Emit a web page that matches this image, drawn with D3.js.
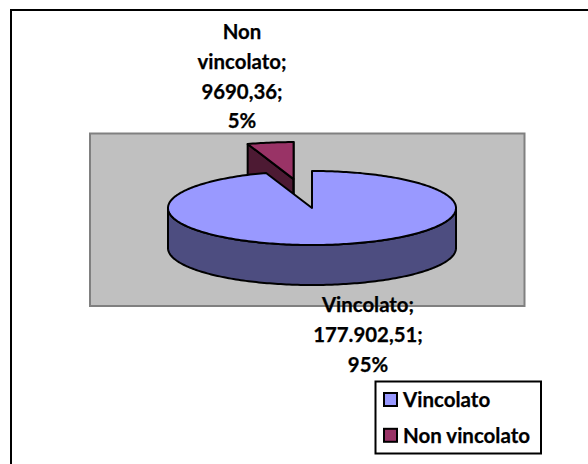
<!DOCTYPE html>
<html>
<head>
<meta charset="utf-8">
<script src="https://cdn.jsdelivr.net/npm/d3@7"></script>
<style>
html, body { margin: 0; padding: 0; background: #fff; }
svg { display: block; }
text { font-family: Lato, "Open Sans", sans-serif; font-weight: bold; fill: #000; stroke: #000; stroke-width: 0.25px; }
</style>
</head>
<body>
<svg id="chart" width="588" height="464"></svg>
<script>
var categories = ["Vincolato", "Non vincolato"];
var values = [177902.51, 9690.36];
var valueLabels = ["177.902,51", "9690,36"];
var percentLabels = ["95%", "5%"];
var topColors = ["#9999ff", "#993366"];
var sideColors = ["#4d4d80", "#4d1a33"];

var cx = 312, cy = 208; // centre of the pie top
var rx = 144, ry = 37, depth = 40;
var explode = 114; // pull out of the small slice, before squashing

const svg = d3.select('#chart');

// outer frame, only top and left are inside the picture
svg.append('path')
    .attr('d', 'M11,464V10H588')
    .attr('fill', 'none').attr('stroke', '#000').attr('stroke-width', 2);

svg.append('rect')
    .attr('x', 90).attr('y', 133.5).attr('width', 434.5).attr('height', 172.5)
    .attr('fill', '#c0c0c0').attr('stroke', '#808080').attr('stroke-width', 2);

var slices = d3.pie().sort(null).value(function (d) { return d; })(values);

// squashed circle, angle 0 at the top going clockwise
var px = d3.scaleLinear().domain([-1, 1]).range([cx - rx, cx + rx]);
var py = d3.scaleLinear().domain([-1, 1]).range([cy - ry, cy + ry]);

function pointAt(a, ox, oy, dy) {
    return [px(Math.sin(a)) + ox, py(-Math.cos(a)) + oy + dy];
}

function arcPoints(a0, a1, ox, oy, dy) {
    var n = Math.max(2, Math.ceil(Math.abs(a1 - a0) / 0.02));
    return d3.range(n + 1).map(function (i) {
        return pointAt(a0 + (a1 - a0) * i / n, ox, oy, dy);
    });
}

function offsetOf(s) {
    if (s.index != 1) return [0, 0];
    var mid = (s.startAngle + s.endAngle) / 2;
    return [explode * Math.sin(mid), -explode * Math.cos(mid) * (ry / rx)];
}

var line = d3.line();

function drawPoly(pts, fill) {
    svg.append('path')
        .attr('d', line(pts) + 'Z')
        .attr('fill', fill)
        .attr('stroke', '#000')
        .attr('stroke-width', 2)
        .attr('stroke-linejoin', 'round');
}

// the small slice sits behind, so it goes first
[slices[1], slices[0]].forEach(function (s) {
    var o = offsetOf(s);
    var c = [cx + o[0], cy + o[1]];
    var c2 = [c[0], c[1] + depth];

    if (s.index == 1) {
        // cut faces of the slice
        var pa = pointAt(s.startAngle, o[0], o[1], 0);
        var pb = pointAt(s.endAngle, o[0], o[1], 0);
        drawPoly([pa, c, c2, [pa[0], pa[1] + depth]], sideColors[1]);
        drawPoly([c, pb, [pb[0], pb[1] + depth], c2], sideColors[1]);
    } else {
        // outer wall, only the front half shows
        var front0 = Math.PI / 2, front1 = Math.PI * 1.5;
        var wall = arcPoints(front0, front1, o[0], o[1], 0)
            .concat(arcPoints(front1, front0, o[0], o[1], depth));
        drawPoly(wall, sideColors[0]);
    }

    var top = [c].concat(arcPoints(s.startAngle, s.endAngle, o[0], o[1], 0));
    drawPoly(top, topColors[s.index]);
});

// data labels
var labelLines = [
    { x: 368, y: 312, lines: ["Vincolato;", valueLabels[0] + ";", percentLabels[0]] },
    { x: 242, y: 39, lines: ["Non", "vincolato;", valueLabels[1] + ";", percentLabels[1]] }
];
labelLines.forEach(function (l) {
    l.lines.forEach(function (t, i) {
        svg.append('text')
            .attr('x', l.x).attr('y', l.y + i * 29.8)
            .attr('text-anchor', 'middle')
            .attr('font-size', 20.4)
            .text(t);
    });
});

// legend
svg.append('rect')
    .attr('x', 375.5).attr('y', 381.5).attr('width', 165.5).attr('height', 72)
    .attr('fill', '#fff').attr('stroke', '#000').attr('stroke-width', 2);

categories.forEach(function (name, i) {
    var y = 393 + i * 35.8;
    svg.append('rect')
        .attr('x', 384).attr('y', y).attr('width', 13).attr('height', 13)
        .attr('fill', topColors[i]).attr('stroke', '#000').attr('stroke-width', 2);
    svg.append('text')
        .attr('x', 403).attr('y', y + 14)
        .attr('font-size', 20.5)
        .text(name);
});
</script>
</body>
</html>
